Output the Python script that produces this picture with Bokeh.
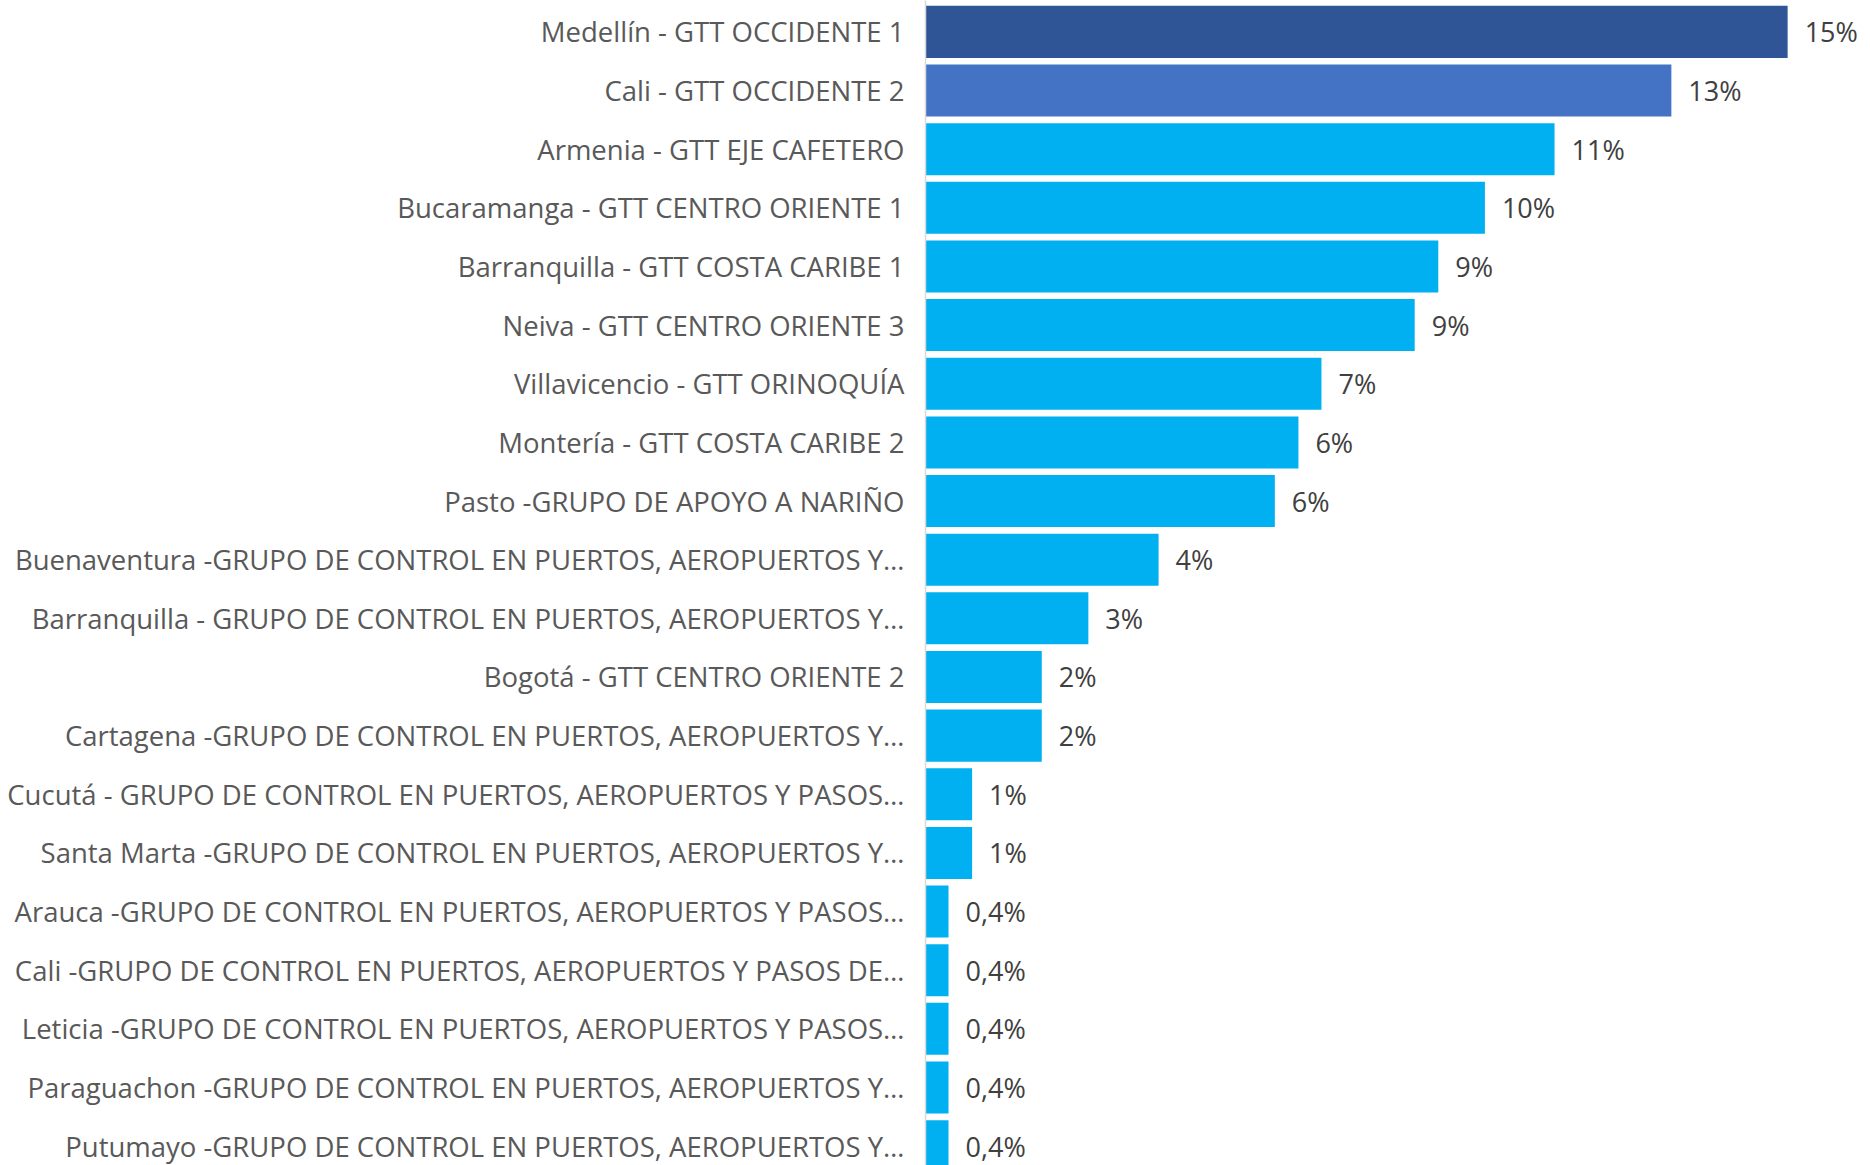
from bokeh.plotting import figure
from bokeh.models import Range1d, FixedTicker, ColumnDataSource
from bokeh.core.properties import value
from bokeh.embed import file_html
from bokeh.resources import INLINE

# ---- data ----
categories = [
    "Medellín - GTT OCCIDENTE 1",
    "Cali - GTT OCCIDENTE 2",
    "Armenia - GTT EJE CAFETERO",
    "Bucaramanga - GTT CENTRO ORIENTE 1",
    "Barranquilla - GTT COSTA CARIBE 1",
    "Neiva - GTT CENTRO ORIENTE 3",
    "Villavicencio - GTT ORINOQUÍA",
    "Montería - GTT COSTA CARIBE 2",
    "Pasto -GRUPO DE APOYO A NARIÑO",
    "Buenaventura -GRUPO DE CONTROL EN PUERTOS, AEROPUERTOS Y…",
    "Barranquilla - GRUPO DE CONTROL EN PUERTOS, AEROPUERTOS Y…",
    "Bogotá - GTT CENTRO ORIENTE 2",
    "Cartagena -GRUPO DE CONTROL EN PUERTOS, AEROPUERTOS Y…",
    "Cucutá - GRUPO DE CONTROL EN PUERTOS, AEROPUERTOS Y PASOS…",
    "Santa Marta -GRUPO DE CONTROL EN PUERTOS, AEROPUERTOS Y…",
    "Arauca -GRUPO DE CONTROL EN PUERTOS, AEROPUERTOS Y PASOS…",
    "Cali -GRUPO DE CONTROL EN PUERTOS, AEROPUERTOS Y PASOS DE…",
    "Leticia -GRUPO DE CONTROL EN PUERTOS, AEROPUERTOS Y PASOS…",
    "Paraguachon -GRUPO DE CONTROL EN PUERTOS, AEROPUERTOS Y…",
    "Putumayo -GRUPO DE CONTROL EN PUERTOS, AEROPUERTOS Y…",
]
share_pct = [14.98, 12.96, 10.93, 9.72, 8.91, 8.50, 6.88, 6.48, 6.07, 4.05,
             2.83, 2.02, 2.02, 0.81, 0.81, 0.40, 0.40, 0.40, 0.40, 0.40]
share_labels = ["15%", "13%", "11%", "10%", "9%", "9%", "7%", "6%", "6%", "4%",
                "3%", "2%", "2%", "1%", "1%", "0,4%", "0,4%", "0,4%", "0,4%", "0,4%"]

# ---- styles ----
DARK_BLUE = "#2F5597"
MID_BLUE = "#4472C4"
CYAN = "#00B0F0"
bar_colors = [DARK_BLUE, MID_BLUE] + [CYAN] * (len(categories) - 2)

rows = list(range(len(categories)))
src = ColumnDataSource(dict(y=rows, pct=share_pct, lbl=share_labels, color=bar_colors))

p = figure(
    width=1870, height=1165,
    output_backend="svg", toolbar_location=None,
    x_range=Range1d(0, 16.42),
    y_range=Range1d(19.33, -0.535),
    x_axis_location=None,
    min_border_left=925, min_border_right=0,
    min_border_top=0, min_border_bottom=0,
    outline_line_color=None,
    background_fill_color="white", border_fill_color="white",
)
p.grid.visible = False

p.hbar(y="y", left=0, right="pct", height=0.887, fill_color="color",
       line_color=None, source=src)

p.text(x="pct", y="y", text="lbl", x_offset=17,
       text_align="left", text_baseline="middle",
       text_font=value("Open Sans"), text_font_size="27px",
       text_color="#404040", source=src)

ax = p.yaxis[0]
ax.ticker = FixedTicker(ticks=rows)
ax.major_label_overrides = {i: c for i, c in enumerate(categories)}
ax.major_tick_out = 0
ax.major_tick_in = 0
ax.minor_tick_out = 0
ax.minor_tick_in = 0
ax.major_label_standoff = 21
ax.axis_line_color = "#D9D9D9"
ax.axis_line_width = 1.5
ax.major_label_text_font = "Open Sans"
ax.major_label_text_font_size = "27.5px"
ax.major_label_text_color = "#595959"

open("out.html", "w").write(file_html(p, INLINE))
